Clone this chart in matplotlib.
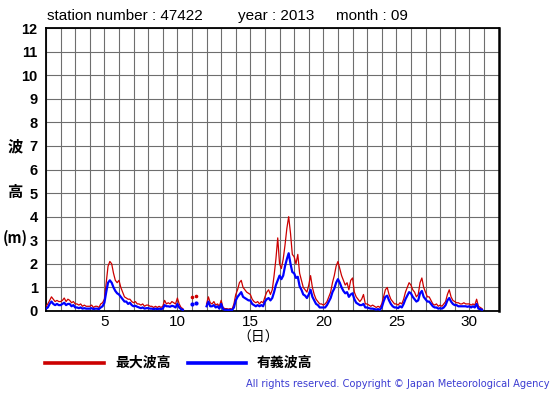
import numpy as np
import matplotlib
matplotlib.use("Agg")
import matplotlib.pyplot as plt

nan = np.nan
# 3-hourly values, 8 per day, Sep 1 .. Sep 30
max_wave = [
    0.2, 0.3, 0.45, 0.6, 0.5, 0.4, 0.45, 0.4,      # 1
    0.4, 0.45, 0.55, 0.4, 0.5, 0.45, 0.35, 0.4,    # 2
    0.3, 0.3, 0.25, 0.3, 0.2, 0.25, 0.2, 0.2,      # 3
    0.2, 0.25, 0.15, 0.2, 0.2, 0.15, 0.3, 0.35,    # 4
    0.5, 1.2, 1.9, 2.1, 2.0, 1.6, 1.3, 1.2,        # 5
    1.3, 1.0, 0.8, 0.6, 0.55, 0.5, 0.5, 0.4,       # 6
    0.35, 0.4, 0.3, 0.3, 0.25, 0.3, 0.2, 0.25,     # 7
    0.25, 0.2, 0.2, 0.15, 0.2, 0.15, 0.2, 0.15,    # 8
    0.2, 0.45, 0.3, 0.35, 0.3, 0.4, 0.35, 0.3,     # 9
    0.55, 0.3, 0.15, 0.1, nan, nan, nan, nan,      # 10
    0.6, nan, 0.65, nan, nan, nan, nan, nan,       # 11
    0.3, 0.6, 0.35, 0.3, 0.4, 0.25, 0.3, 0.2,      # 12
    0.45, 0.15, 0.1, 0.1, 0.08, 0.1, 0.08, 0.3,    # 13
    0.7, 0.9, 1.2, 1.3, 1.0, 0.9, 0.8, 0.75,       # 14
    0.7, 0.5, 0.4, 0.35, 0.4, 0.3, 0.4, 0.35,      # 15
    0.6, 0.8, 0.9, 0.7, 0.9, 1.5, 2.2, 3.1,        # 16
    2.0, 1.8, 2.2, 2.8, 3.5, 4.0, 3.3, 2.4,        # 17
    2.3, 2.0, 2.4, 1.6, 1.3, 1.0, 0.9, 0.8,        # 18
    1.1, 1.5, 1.0, 0.7, 0.5, 0.4, 0.3, 0.3,        # 19
    0.25, 0.3, 0.4, 0.6, 0.8, 1.2, 1.5, 1.9,       # 20
    2.1, 1.8, 1.5, 1.3, 1.1, 1.2, 0.9, 1.3,        # 21
    1.4, 0.8, 0.6, 0.5, 0.4, 0.5, 0.7, 0.3,        # 22
    0.3, 0.25, 0.2, 0.25, 0.2, 0.15, 0.2, 0.15,    # 23
    0.3, 0.6, 0.9, 1.0, 0.7, 0.5, 0.4, 0.3,        # 24
    0.3, 0.25, 0.35, 0.3, 0.5, 0.8, 1.0, 1.2,      # 25
    1.1, 0.9, 0.8, 0.6, 0.7, 1.2, 1.4, 1.0,        # 26
    0.8, 0.6, 0.6, 0.45, 0.3, 0.25, 0.3, 0.2,      # 27
    0.25, 0.2, 0.3, 0.4, 0.7, 0.9, 0.6, 0.45,      # 28
    0.4, 0.35, 0.35, 0.3, 0.3, 0.35, 0.3, 0.3,     # 29
    0.3, 0.25, 0.3, 0.25, 0.5, 0.2, 0.15, 0.1,     # 30
]
sig_wave = [
    0.1, 0.15, 0.3, 0.4, 0.3, 0.25, 0.3, 0.25,     # 1
    0.25, 0.3, 0.35, 0.25, 0.3, 0.3, 0.2, 0.25,    # 2
    0.15, 0.15, 0.12, 0.15, 0.1, 0.12, 0.1, 0.1,   # 3
    0.1, 0.12, 0.08, 0.1, 0.1, 0.08, 0.15, 0.2,    # 4
    0.35, 0.8, 1.2, 1.3, 1.2, 1.0, 0.85, 0.75,     # 5
    0.7, 0.6, 0.5, 0.4, 0.4, 0.3, 0.35, 0.25,      # 6
    0.2, 0.22, 0.18, 0.15, 0.12, 0.15, 0.1, 0.12,  # 7
    0.12, 0.1, 0.1, 0.08, 0.1, 0.08, 0.1, 0.08,    # 8
    0.1, 0.25, 0.2, 0.2, 0.18, 0.22, 0.2, 0.15,    # 9
    0.3, 0.15, 0.08, 0.05, nan, nan, nan, nan,     # 10
    0.3, nan, 0.35, nan, nan, nan, nan, nan,       # 11
    0.2, 0.4, 0.2, 0.2, 0.25, 0.15, 0.2, 0.1,      # 12
    0.3, 0.08, 0.05, 0.05, 0.04, 0.05, 0.04, 0.15, # 13
    0.45, 0.6, 0.7, 0.8, 0.6, 0.55, 0.5, 0.45,     # 14
    0.45, 0.3, 0.25, 0.2, 0.25, 0.2, 0.25, 0.2,    # 15
    0.4, 0.5, 0.55, 0.45, 0.55, 0.8, 1.1, 1.3,     # 16
    1.5, 1.35, 1.5, 1.9, 2.2, 2.45, 2.0, 1.65,     # 17
    1.6, 1.4, 1.45, 1.05, 0.9, 0.7, 0.65, 0.55,    # 18
    0.7, 0.9, 0.6, 0.45, 0.3, 0.25, 0.15, 0.15,    # 19
    0.15, 0.15, 0.25, 0.4, 0.55, 0.8, 0.95, 1.2,   # 20
    1.35, 1.2, 1.0, 0.85, 0.75, 0.8, 0.6, 0.7,     # 21
    0.75, 0.5, 0.35, 0.3, 0.25, 0.25, 0.3, 0.15,   # 22
    0.15, 0.12, 0.1, 0.1, 0.08, 0.06, 0.08, 0.05,  # 23
    0.15, 0.4, 0.6, 0.65, 0.45, 0.3, 0.2, 0.15,    # 24
    0.15, 0.12, 0.2, 0.15, 0.3, 0.5, 0.65, 0.8,    # 25
    0.75, 0.6, 0.5, 0.4, 0.45, 0.75, 0.85, 0.6,    # 26
    0.5, 0.4, 0.4, 0.3, 0.2, 0.15, 0.15, 0.1,      # 27
    0.12, 0.1, 0.15, 0.25, 0.45, 0.55, 0.4, 0.3,   # 28
    0.25, 0.25, 0.2, 0.2, 0.2, 0.2, 0.2, 0.18,     # 29
    0.2, 0.15, 0.2, 0.15, 0.3, 0.1, 0.08, 0.05,    # 30
]
steps_per_day = 8
x_ticks = [5, 10, 15, 20, 25, 30]
y_ticks = list(range(0, 13))

title_station = "station number : 47422"
title_year = "year : 2013"
title_month = "month : 09"

RED = "#cc0000"
BLUE = "#0000ff"
LATIN = ["Liberation Sans", "DejaVu Sans"]
CJK = ["Noto Sans CJK JP", "DejaVu Sans"]

mx = np.array(max_wave, dtype=float)
sg = np.array(sig_wave, dtype=float)
t = 1 + np.arange(len(mx)) / steps_per_day

fig = plt.figure(figsize=(5.55, 3.95), dpi=100)
W, H = 555, 395
L, R, T, B = 46, 498.5, 28, 311
ax = fig.add_axes([L / W, (H - B) / H, (R - L) / W, (B - T) / H])
ax.set_xlim(1, 32)
ax.set_ylim(0, 12)

ax.set_xticks(range(1, 33))
ax.set_xticklabels([str(d) if d in x_ticks else "" for d in range(1, 33)],
                   fontfamily=LATIN, fontsize=11)
ax.set_yticks(y_ticks)
ax.set_yticklabels([str(v) for v in y_ticks], fontfamily=LATIN,
                   fontsize=10.5, fontweight="bold")
ax.tick_params(axis="x", length=0, pad=3)
ax.tick_params(axis="y", length=0, pad=6)
ax.grid(True, color="#6e6e6e", linewidth=0.8)
ax.set_axisbelow(True)
for s in ax.spines.values():
    s.set_color("black")
    s.set_linewidth(1.3)
ax.spines["right"].set_linewidth(1.8)


def isolated(a):
    ok = ~np.isnan(a)
    prev = np.r_[False, ok[:-1]]
    nxt = np.r_[ok[1:], False]
    return ok & ~prev & ~nxt


ax.plot(t, mx, color=RED, linewidth=0.9, zorder=3)
iso = isolated(mx)
ax.plot(t[iso], mx[iso], "o", color=RED, markersize=1.6, zorder=3)
ax.plot(t, sg, color=BLUE, linewidth=1.6, zorder=4)
iso = isolated(sg)
ax.plot(t[iso], sg[iso], "o", color=BLUE, markersize=2.0, zorder=4)

# titles
fig.text(47 / W, 1 - 16 / H, title_station, fontfamily=LATIN, fontsize=11, va="center")
fig.text(238 / W, 1 - 16 / H, title_year, fontfamily=LATIN, fontsize=11, va="center")
fig.text(336 / W, 1 - 16 / H, title_month, fontfamily=LATIN, fontsize=11, va="center")

# y label pieces
fig.text(15 / W, 1 - 146 / H, "波", fontfamily=CJK, fontsize=11, fontweight="bold",
         ha="center", va="center")
fig.text(15 / W, 1 - 192 / H, "高", fontfamily=CJK, fontsize=11, fontweight="bold",
         ha="center", va="center")
fig.text(15 / W, 1 - 238 / H, "(m)", fontfamily=CJK, fontsize=10.5, fontweight="bold",
         ha="center", va="center")
# x label
fig.text(258 / W, 1 - 338 / H, "（日）", fontfamily=CJK, fontsize=10,
         ha="center", va="center")

# legend
fig.add_artist(plt.Line2D([45 / W, 104 / W], [1 - 363 / H] * 2, color=RED, linewidth=2.6))
fig.text(115 / W, 1 - 363 / H, "最大波高", fontfamily=CJK, fontsize=10, fontweight="bold",
         va="center")
fig.add_artist(plt.Line2D([188 / W, 246 / W], [1 - 363 / H] * 2, color=BLUE, linewidth=2.6))
fig.text(257 / W, 1 - 363 / H, "有義波高", fontfamily=CJK, fontsize=10, fontweight="bold",
         va="center")

fig.text(550 / W, 1 - 384 / H,
         "All rights reserved. Copyright © Japan Meteorological Agency",
         fontfamily=["DejaVu Sans"], fontsize=7.1, color="#3c3cd2", ha="right", va="center")

fig.savefig("out.png", dpi=100)
